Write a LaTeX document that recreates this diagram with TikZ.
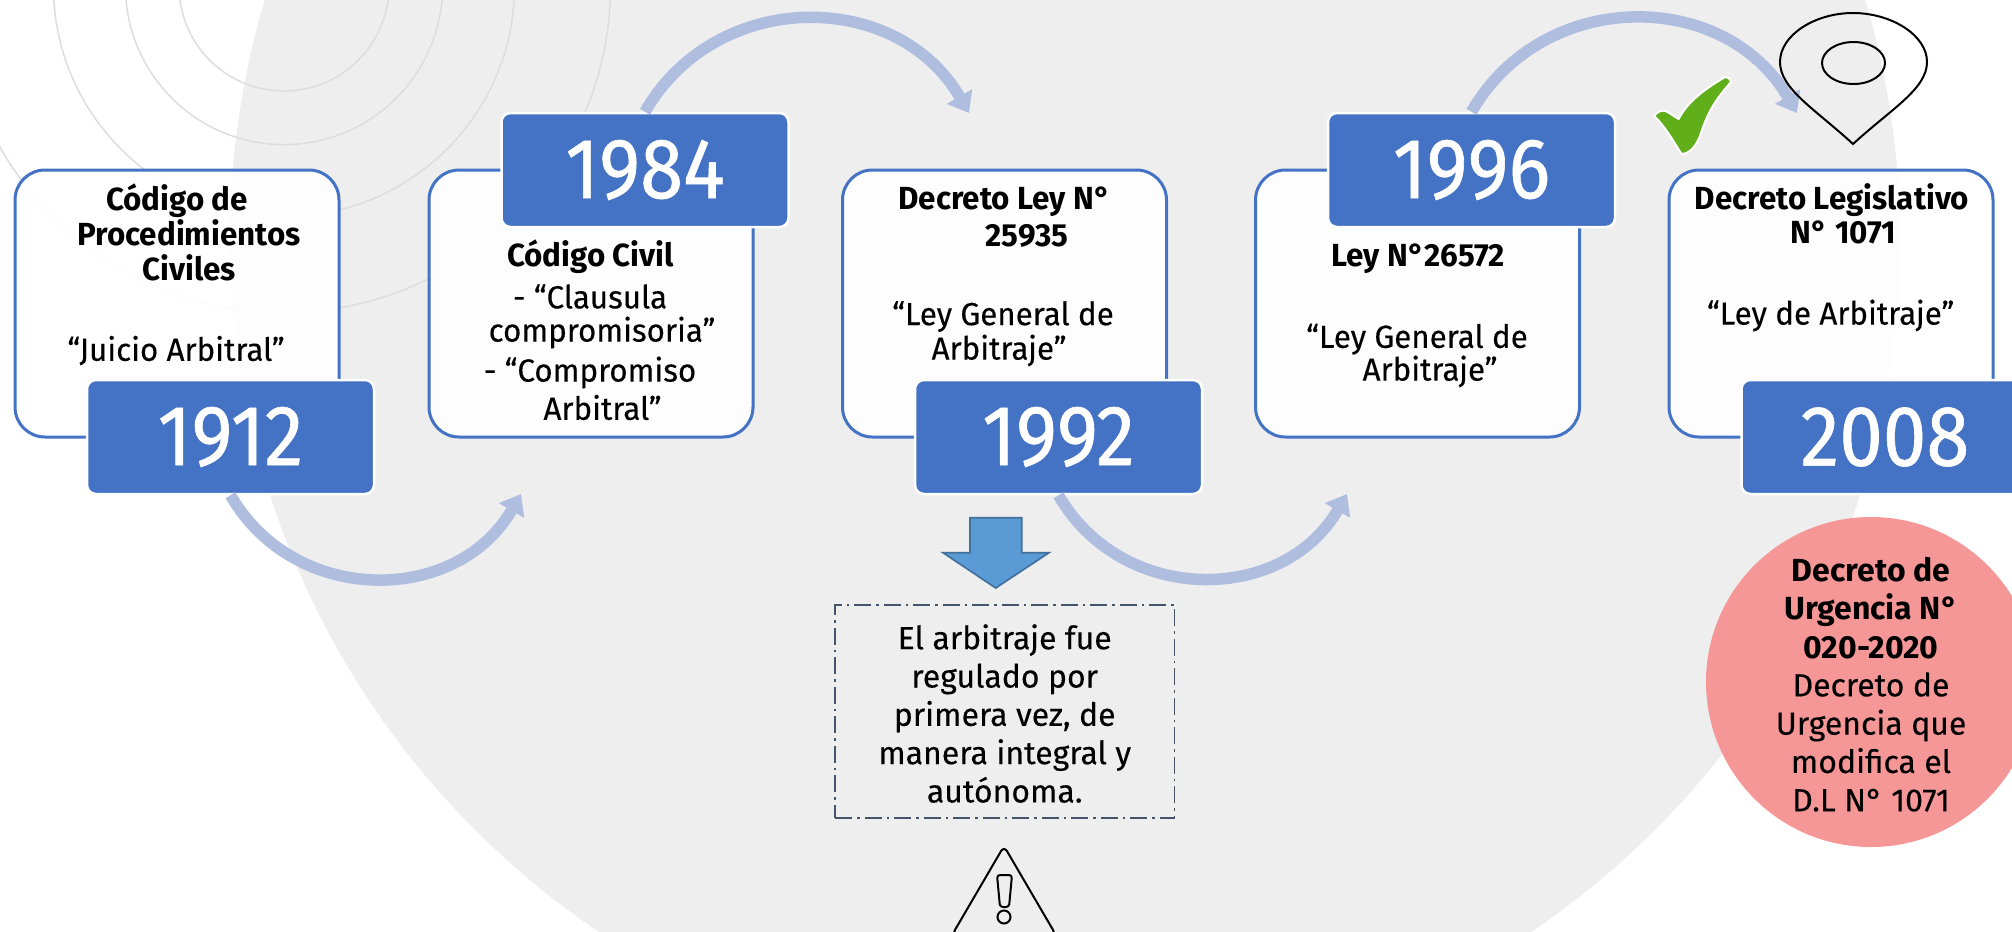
\documentclass[tikz,border=0pt]{standalone}
\usepackage{fontspec}
\setmainfont[UprightFeatures={FakeBold=0.25}]{Fira Sans}
\newfontfamily\yearfont[FakeStretch=0.91,FakeBold=0.7]{Fira Sans}
\newfontfamily\lawfont[FakeStretch=0.98,UprightFeatures={FakeBold=0.25}]{Fira Sans}
\usetikzlibrary{arrows.meta}
\definecolor{boxblue}{HTML}{4472C4}
\definecolor{flowblue}{HTML}{AFBDDF}
\definecolor{backgrey}{HTML}{EEEEEE}
\definecolor{ringgrey}{HTML}{DDDDDD}
\definecolor{downblue}{HTML}{5B9BD5}
\definecolor{downedge}{HTML}{41719C}
\definecolor{noteedge}{HTML}{44546A}
\definecolor{urgentred}{HTML}{F59797}
\definecolor{tickgreen}{HTML}{5FAE1A}
\tikzset{
  lawbox/.style={draw=boxblue,line width=0.03cm,fill=white,fill opacity=0.92,rounded corners=0.3cm,minimum width=3.24cm,minimum height=2.67cm,inner sep=0pt},
  yearbox/.style={draw=white,line width=0.025cm,fill=boxblue,rounded corners=0.09cm,minimum width=2.87cm,minimum height=1.14cm,inner sep=0pt,text=white,font=\yearfont\fontsize{24.4}{26}\selectfont},
  lawtext/.style={inner sep=0pt,align=center,yshift=-0.025cm,font=\lawfont\fontsize{9.1}{9.8}\selectfont},
  lawhead/.style={lawtext,font=\lawfont\bfseries\fontsize{9.1}{9.8}\selectfont},
  flow/.style={draw=flowblue,line width=0.115cm,-{Triangle[width=0.28cm,length=0.19cm]},looseness=1.13},
  ring/.style={draw=ringgrey,line width=0.015cm},
}
\begin{document}
\begin{tikzpicture}
  \clip (0,0) rectangle (20.12,9.31);
  \fill[backgrey] (10.65,6.92) circle [radius=8.35];
  \draw[ring] (2.84,9.45) circle [radius=1.05];
  \draw[ring] (2.84,9.45) circle [radius=1.586];
  \draw[ring] (2.84,9.45) circle [radius=2.306];
  \draw[ring] (2.84,9.45) circle [radius=3.265];

  \node[lawbox] (b1912) at (1.77,6.275) {};
  \node[lawbox] (b1984) at (5.91,6.275) {};
  \node[lawbox] (b1992) at (10.045,6.275) {};
  \node[lawbox] (b1996) at (14.175,6.275) {};
  \node[lawbox] (b2008) at (18.31,6.275) {};
  \node[yearbox] (y1912) at (2.305,4.94) {1912};
  \node[yearbox] (y1984) at (6.45,7.61) {1984};
  \node[yearbox] (y1992) at (10.585,4.94) {1992};
  \node[yearbox] (y1996) at (14.715,7.61) {1996};
  \node[yearbox] (y2008) at (18.85,4.94) {2008};

  \node[lawhead] (t1a) at (1.77,7.33) {Código de};
  \node[lawhead] (t1b) at (1.89,6.83) {Procedimientos\\Civiles};
  \node[lawtext] (t1c) at (1.76,5.83) {“Juicio Arbitral”};
  \node[lawhead] (t2a) at (5.906,6.77) {Código Civil};
  \node[lawtext] (t2b) at (5.90,6.37) {- “Clausula};
  \node[lawtext] (t2c) at (6.02,6.01) {compromisoria”};
  \node[lawtext] (t2d) at (5.90,5.61) {- “Compromiso};
  \node[lawtext] (t2e) at (6.025,5.26) {Arbitral”};
  \node[lawhead] (t3a) at (10.046,7.32) {Decreto Ley N°};
  \node[lawhead] (t3b) at (10.27,6.98) {25935};
  \node[lawtext] (t3c) at (10.03,6.17) {“Ley General de};
  \node[lawtext] (t3d) at (9.99,5.83) {Arbitraje”};
  \node[lawhead] (t4a) at (14.18,6.75) {Ley N°26572};
  \node[lawtext] (t4b) at (14.17,5.943) {“Ley General de};
  \node[lawtext] (t4c) at (14.30,5.62) {Arbitraje”};
  \node[lawhead] (t5a) at (18.32,7.33) {Decreto Legislativo};
  \node[lawhead] (t5b) at (18.435,7.01) {N° 1071};
  \node[lawtext] (t5c) at (18.306,6.18) {“Ley de Arbitraje”};

  \coordinate (tip1984) at (5.21,4.37);
  \coordinate (tip1992) at (9.69,8.18);
  \coordinate (tip1996) at (13.47,4.37);
  \coordinate (tip2008) at (17.97,8.18);
  \draw[flow] (y1912.south) to[out=-60,in=-120] (tip1984);
  \draw[flow] (y1984.north) to[out=60,in=120] (tip1992);
  \draw[flow] (y1992.south) to[out=-60,in=-120] (tip1996);
  \draw[flow] (y1996.north) to[out=60,in=120] (tip2008);

  \draw[black,line width=0.02cm] (18.53,7.87) .. controls (18.15,8.22) and (17.80,8.42) .. (17.80,8.69) .. controls (17.80,8.96) and (18.15,9.18) .. (18.53,9.18) .. controls (18.91,9.18) and (19.27,8.96) .. (19.27,8.69) .. controls (19.27,8.42) and (18.91,8.22) .. cycle;
  \draw[black,line width=0.02cm] (18.535,8.68) ellipse [x radius=0.315,y radius=0.21];
  \filldraw[draw=white,line width=0.02cm,fill=tickgreen,line join=round] (16.54,8.15) .. controls (16.58,8.2) and (16.62,8.21) .. (16.655,8.2) .. controls (16.70,8.18) and (16.75,8.14) .. (16.786,8.12) .. controls (16.88,8.3) and (17.05,8.42) .. (17.25,8.54) .. controls (17.28,8.54) and (17.31,8.52) .. (17.31,8.49) .. controls (17.2,8.36) and (17.09,8.24) .. (17.0,7.95) .. controls (16.94,7.8) and (16.86,7.77) .. (16.815,7.77) .. controls (16.75,7.87) and (16.65,8.05) .. cycle;

  \draw[draw=downedge,line width=0.017cm,fill=downblue] (9.70,4.133) -- (10.217,4.133) -- (10.217,3.783) -- (10.49,3.783) -- (9.957,3.43) -- (9.43,3.783) -- (9.70,3.783) -- cycle;
  \node[draw=noteedge,line width=0.015cm,dash pattern=on 0.17cm off 0.05cm on 0.025cm off 0.05cm,minimum width=3.393cm,minimum height=2.13cm,inner sep=0pt,align=center,font=\fontsize{9.1}{10.9}\selectfont] (note) at (10.047,2.195) {\rule{0pt}{0.29cm}El arbitraje fue\\regulado por\\primera vez, de\\manera integral y\\autónoma.};
  \node[circle,fill=urgentred,minimum size=3.3cm,inner sep=0pt,align=center,font=\fontsize{9.1}{10.9}\selectfont] (urgent) at (18.71,2.49) {\rule{0pt}{0.29cm}\textbf{Decreto de}\\\textbf{Urgencia N°}\\\textbf{020-2020}\\Decreto de\\Urgencia que\\modifica el\\D.L N° 1071};

  \draw[black,line width=0.02cm,rounded corners=0.06cm] (10.04,0.85) -- (9.52,-0.04) -- (10.56,-0.04) -- cycle;
  \draw[black,line width=0.02cm,rounded corners=0.03cm] (9.97,0.56) -- (10.12,0.56) -- (10.09,0.24) -- (10.0,0.24) -- cycle;
  \draw[black,line width=0.02cm] (10.04,0.14) circle [radius=0.065];
\end{tikzpicture}
\end{document}
